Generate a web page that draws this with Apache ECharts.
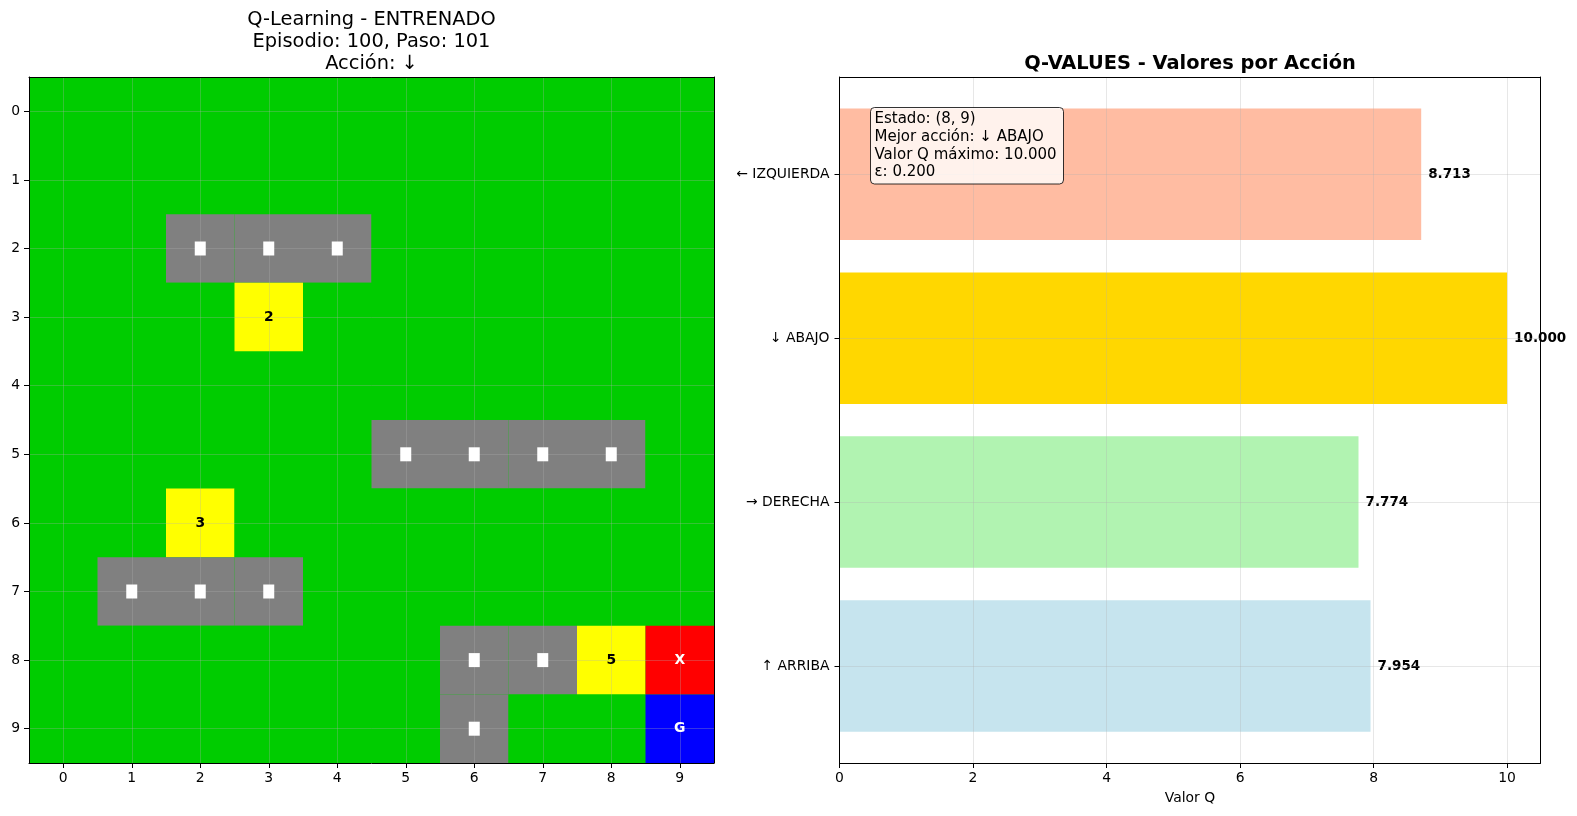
<!DOCTYPE html>
<html>
<head>
<meta charset="utf-8">
<script src="https://cdn.jsdelivr.net/npm/echarts@6/dist/echarts.min.js"></script>
<style>html,body{margin:0;padding:0;background:#fff;}#c{width:1577px;height:816px;}</style>
</head>
<body>
<div id="c"></div>
<script>
// ---- Data ----
const gridTicks = [0,1,2,3,4,5,6,7,8,9];
// 0 libre (verde), 1 obstáculo (gris), 2 recompensa (amarillo), 3 agente (rojo), 4 meta (azul)
const cellTypes = [
  [0,0,0,0,0,0,0,0,0,0],
  [0,0,0,0,0,0,0,0,0,0],
  [0,0,1,1,1,0,0,0,0,0],
  [0,0,0,2,0,0,0,0,0,0],
  [0,0,0,0,0,0,0,0,0,0],
  [0,0,0,0,0,1,1,1,1,0],
  [0,0,2,0,0,0,0,0,0,0],
  [0,1,1,1,0,0,0,0,0,0],
  [0,0,0,0,0,0,1,1,2,3],
  [0,0,0,0,0,0,1,0,0,4]
];
const cellColors = ['#00cc00','#808080','#ffff00','#ff0000','#0000ff'];
const labelRows = [3, 6, 8, 8, 9];
const labelCols = [3, 2, 8, 9, 9];
const labelTexts = ['2', '3', '5', 'X', 'G'];
const labelColors = ['#000000','#000000','#000000','#ffffff','#ffffff'];

const actions = ['↑ ARRIBA', '→ DERECHA', '↓ ABAJO', '← IZQUIERDA'];
const qValues = [7.954, 7.774, 10.000, 8.713];
const barColors = ['#c6e4ee', '#b1f3b1', '#ffd700', '#ffbca2'];

const leftTitleLines = ['Q-Learning - ENTRENADO', 'Episodio: 100, Paso: 101', 'Acción: ↓'];
const rightTitle = 'Q-VALUES - Valores por Acción';
const infoLines = ['Estado: (8, 9)', 'Mejor acción: ↓ ABAJO', 'Valor Q máximo: 10.000', 'ε: 0.200'];

// ---- Build ----
const FONT = 'DejaVu Sans';
const cellData = [];
const markerData = [];
cellTypes.forEach((row, r) => row.forEach((t, c) => {
  cellData.push([c, r, t]);
  if (t === 1) markerData.push([c, r]);
}));
const labelData = labelTexts.map((t, i) => [labelCols[i], labelRows[i], i]);

const L = {left: 29, top: 77, width: 685, height: 686};
const R = {left: 839.5, top: 77, width: 701, height: 686};
const centerTop = 174.3, centerBottom = 666;

const gridLineColor = 'rgba(176,176,176,0.3)';
const tickLabel = {color: '#000', fontSize: 13.9, fontFamily: FONT};

const chart = echarts.init(document.getElementById('c'), null, {renderer: 'canvas'});

const titleGraphics = leftTitleLines.map((t, i) => ({
  type: 'text', x: 371.5, y: [19.8, 41.9, 64.0][i], z: 100,
  style: {text: t, fill: '#000', font: '19.4px "' + FONT + '"', align: 'center', textAlign: 'center', verticalAlign: 'middle', textVerticalAlign: 'middle'}
}));

const option = {
  animation: false,
  backgroundColor: '#ffffff',
  grid: [
    {left: L.left, top: L.top, width: L.width, height: L.height, show: true, backgroundColor: '#00cc00', borderWidth: 0, containLabel: false},
    {left: R.left, top: R.top, width: R.width, height: R.height, containLabel: false},
    {left: R.left, top: centerTop, width: R.width, height: centerBottom - centerTop, containLabel: false}
  ],
  xAxis: [
    {gridIndex: 0, type: 'value', min: -0.5, max: 9.5, z: 5,
      axisLine: {show: true, onZero: false, lineStyle: {color: '#000', width: 1}},
      axisTick: {show: true, length: 5, customValues: gridTicks, lineStyle: {color: '#000'}},
      axisLabel: {show: true, customValues: gridTicks, margin: 8, ...tickLabel},
      splitLine: {show: true, lineStyle: {color: gridLineColor, width: 1}}},
    {gridIndex: 0, type: 'value', position: 'top', min: -0.5, max: 9.5, z: 5,
      axisLine: {show: true, onZero: false, lineStyle: {color: '#000', width: 1}},
      axisTick: {show: false}, axisLabel: {show: false}, splitLine: {show: false}},
    {gridIndex: 1, type: 'value', min: 0, max: 10.5, interval: 2, z: 5,
      name: 'Valor Q', nameLocation: 'middle', nameGap: 28,
      nameTextStyle: {color: '#000', fontSize: 13.9, fontFamily: FONT},
      axisLine: {show: true, onZero: false, lineStyle: {color: '#000', width: 1}},
      axisTick: {show: true, length: 5, lineStyle: {color: '#000'}},
      axisLabel: {show: true, margin: 8, showMaxLabel: false, formatter: v => String(v), ...tickLabel},
      splitLine: {show: true, lineStyle: {color: gridLineColor, width: 1}}},
    {gridIndex: 1, type: 'value', position: 'top', min: 0, max: 10.5, z: 5,
      axisLine: {show: true, onZero: false, lineStyle: {color: '#000', width: 1}},
      axisTick: {show: false}, axisLabel: {show: false}, splitLine: {show: false}},
    {gridIndex: 2, type: 'value', min: 0, max: 10.5, show: false}
  ],
  yAxis: [
    {gridIndex: 0, type: 'value', inverse: true, min: -0.5, max: 9.5, z: 5,
      axisLine: {show: true, onZero: false, lineStyle: {color: '#000', width: 1}},
      axisTick: {show: true, length: 5, customValues: gridTicks, lineStyle: {color: '#000'}},
      axisLabel: {show: true, customValues: gridTicks, margin: 9, ...tickLabel},
      splitLine: {show: true, lineStyle: {color: gridLineColor, width: 1}}},
    {gridIndex: 0, type: 'value', position: 'right', inverse: true, min: -0.5, max: 9.5, z: 5,
      axisLine: {show: true, onZero: false, lineStyle: {color: '#000', width: 1}},
      axisTick: {show: false}, axisLabel: {show: false}, splitLine: {show: false}},
    {gridIndex: 1, type: 'value', min: 0, max: 1, z: 5,
      axisLine: {show: true, onZero: false, lineStyle: {color: '#000', width: 1}},
      axisTick: {show: false}, axisLabel: {show: false}, splitLine: {show: false}},
    {gridIndex: 1, type: 'value', position: 'right', min: 0, max: 1, z: 5,
      axisLine: {show: true, onZero: false, lineStyle: {color: '#000', width: 1}},
      axisTick: {show: false}, axisLabel: {show: false}, splitLine: {show: false}},
    {gridIndex: 2, type: 'category', data: actions, boundaryGap: false, z: 5,
      axisLine: {show: false},
      axisTick: {show: true, length: 5, inside: false, lineStyle: {color: '#000'}},
      axisLabel: {show: true, margin: 10, interval: 0, ...tickLabel},
      splitLine: {show: true, interval: 0, lineStyle: {color: gridLineColor, width: 1}}}
  ],
  series: [
    {type: 'custom', xAxisIndex: 0, yAxisIndex: 0, z: 1, silent: true,
      encode: {x: 0, y: 1},
      data: cellData,
      renderItem: function (params, api) {
        const c = api.value(0), r = api.value(1), t = api.value(2);
        const a = api.coord([c - 0.5, r - 0.5]);
        const b = api.coord([c + 0.5, r + 0.5]);
        return {type: 'rect',
          shape: {x: Math.min(a[0], b[0]), y: Math.min(a[1], b[1]), width: Math.abs(b[0] - a[0]), height: Math.abs(b[1] - a[1])},
          style: {fill: cellColors[t]}};
      }},
    {type: 'scatter', xAxisIndex: 0, yAxisIndex: 0, z: 6, silent: true,
      symbol: 'rect', symbolSize: [11, 14],
      itemStyle: {color: '#ffffff', opacity: 1},
      data: markerData},
    {type: 'custom', xAxisIndex: 0, yAxisIndex: 0, z: 6, silent: true,
      encode: {x: 0, y: 1},
      data: labelData,
      renderItem: function (params, api) {
        const i = params.dataIndex;
        const p = api.coord([api.value(0), api.value(1)]);
        return {type: 'text', x: p[0], y: p[1],
          style: {text: labelTexts[i], fill: labelColors[i], font: 'bold 13.9px "' + FONT + '"',
            align: 'center', textAlign: 'center', verticalAlign: 'middle', textVerticalAlign: 'middle'}};
      }},
    {type: 'bar', xAxisIndex: 4, yAxisIndex: 4, z: 2, barWidth: 131.5, clip: false, silent: true,
      data: qValues.map((v, i) => ({value: v, itemStyle: {color: barColors[i]}})),
      label: {show: true, position: 'right', distance: 7, color: '#000', fontWeight: 'bold', fontSize: 13.5, fontFamily: FONT,
        formatter: p => qValues[p.dataIndex].toFixed(3)}}
  ],
  graphic: titleGraphics.concat([
    {type: 'text', x: 1190, y: 63.8, z: 100,
      style: {text: rightTitle, fill: '#000', font: 'bold 19.4px "' + FONT + '"', align: 'center', textAlign: 'center', verticalAlign: 'middle', textVerticalAlign: 'middle'}},
    {type: 'rect', z: 100,
      shape: {x: 870.5, y: 107.5, width: 193, height: 76.5, r: 4},
      style: {fill: 'rgba(255,255,255,0.8)', stroke: 'rgba(0,0,0,0.8)', lineWidth: 1}},
    {type: 'text', x: 874.5, y: 110.8, z: 101,
      style: {text: infoLines.join('\n'), fill: '#000', font: '15px "' + FONT + '"', lineHeight: 17.6,
        align: 'left', textAlign: 'left', verticalAlign: 'top', textVerticalAlign: 'top'}}
  ])
};
chart.setOption(option);
</script>
</body>
</html>
